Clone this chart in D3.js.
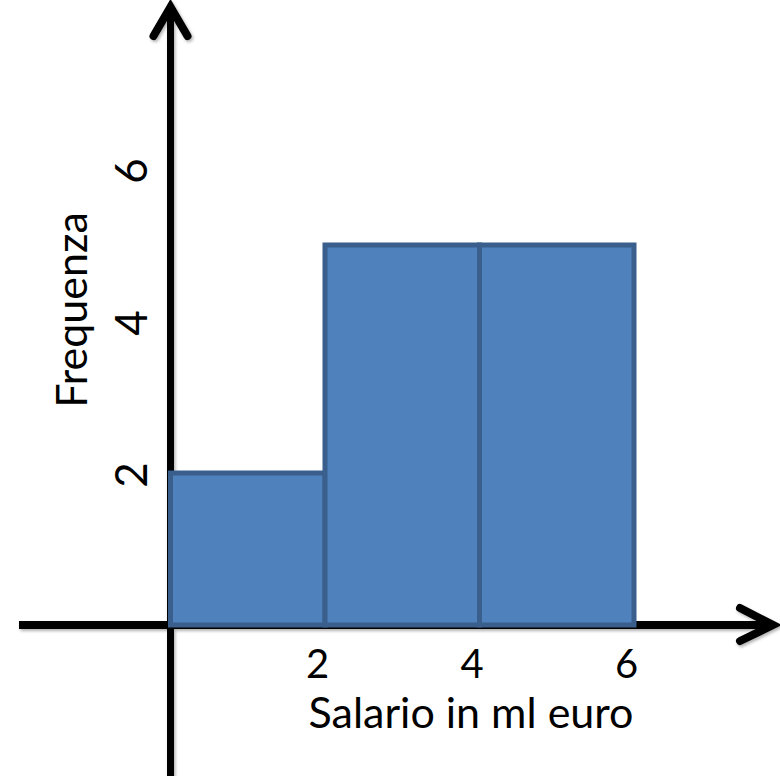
<!DOCTYPE html>
<html lang="en">
<head>
    <meta charset="UTF-8">
    <title>Istogramma salari</title>
    <script src="https://cdnjs.cloudflare.com/ajax/libs/d3/7.8.2/d3.min.js"></script>
    <style>
        body{
            margin: 0;
            background: #fff;
        }
        text{
            font-family: Lato, "Open Sans", sans-serif;
            fill: #000;
        }
    </style>
</head>
<body>
    <div class="container"></div>
    <script>
        // data
        let binStart = [0, 2, 4];
        let binEnd = [2, 4, 6];
        let frequenza = [2, 5, 5];
        let xTicks = [2, 4, 6];
        let yTicks = [2, 4, 6];
        let xTitle = 'Salario in ml euro';
        let yTitle = 'Frequenza';

        let width = 780;
        let height = 776;

        let svg = d3.select('.container').append('svg')
            .attr('width', width)
            .attr('height', height);

        let xScale = d3.scaleLinear().domain([0, 6]).range([170.5, 634]);
        let yScale = d3.scaleLinear().domain([0, 6]).range([625, 169]);

        // soft shadow like the office arrows
        let defs = svg.append('defs');
        let f = defs.append('filter').attr('id', 'shadow')
            .attr('x', '-20%').attr('y', '-20%').attr('width', '140%').attr('height', '140%');
        f.append('feDropShadow').attr('dx', 1.5).attr('dy', 2).attr('stdDeviation', 1.5)
            .attr('flood-color', '#000').attr('flood-opacity', 0.3);

        const drawAxes = () => {
            let g = svg.append('g').attr('class', 'arrows').attr('filter', 'url(#shadow)');
            let x0 = xScale(0);
            let y0 = yScale(0);

            // x axis + head
            g.append('line')
                .attr('x1', 19).attr('x2', 772)
                .attr('y1', y0).attr('y2', y0)
                .style('stroke', '#000').style('stroke-width', 8);
            g.append('path')
                .attr('d', `M740,${y0 - 17} L773,${y0} L740,${y0 + 16}`)
                .style('fill', 'none').style('stroke', '#000').style('stroke-width', 8)
                .style('stroke-linecap', 'round').style('stroke-linejoin', 'miter');

            // y axis + head
            g.append('line')
                .attr('x1', x0).attr('x2', x0)
                .attr('y1', height + 5).attr('y2', 8)
                .style('stroke', '#000').style('stroke-width', 7);
            g.append('path')
                .attr('d', `M${x0 - 17},36 L${x0},7 L${x0 + 17},36`)
                .style('fill', 'none').style('stroke', '#000').style('stroke-width', 8)
                .style('stroke-linecap', 'round').style('stroke-linejoin', 'miter');
        };

        const drawBars = () => {
            svg.append('g').attr('class', 'bars')
                .selectAll('rect')
                .data(frequenza)
                .enter()
                .append('rect')
                .attr('x', (d, i) => xScale(binStart[i]))
                .attr('y', d => yScale(d))
                .attr('width', (d, i) => xScale(binEnd[i]) - xScale(binStart[i]))
                .attr('height', d => yScale(0) - yScale(d))
                .style('fill', '#4f81bd')
                .style('stroke', '#3a5f8c')
                .style('stroke-width', 5);
        };

        const drawLabels = () => {
            let xAxis = d3.axisBottom(xScale).tickValues(xTicks).tickFormat(d3.format('d'))
                .tickSize(0).tickPadding(0);
            let gx = svg.append('g').attr('id', 'x-axis')
                .attr('transform', `translate(-8, 678)`)
                .call(xAxis);
            gx.select('.domain').remove();
            gx.selectAll('text').attr('dy', 0).style('font-size', '40px');

            let yAxis = d3.axisLeft(yScale).tickValues(yTicks).tickFormat(d3.format('d'))
                .tickSize(0).tickPadding(0);
            let gy = svg.append('g').attr('id', 'y-axis')
                .call(yAxis);
            gy.select('.domain').remove();
            gy.selectAll('.tick').attr('transform', d => `translate(147, ${yScale(d) + 2}) rotate(-90)`);
            gy.selectAll('text')
                .attr('x', 0).attr('dy', 0)
                .style('text-anchor', 'middle')
                .style('font-size', '44px');

            svg.append('text')
                .attr('x', 471).attr('y', 728)
                .style('text-anchor', 'middle')
                .style('font-size', '43px')
                .text(xTitle);

            svg.append('text')
                .attr('transform', 'translate(87, 310) rotate(-90)')
                .style('text-anchor', 'middle')
                .style('font-size', '43px')
                .text(yTitle);
        };

        drawAxes();
        drawBars();
        drawLabels();
    </script>
</body>
</html>
